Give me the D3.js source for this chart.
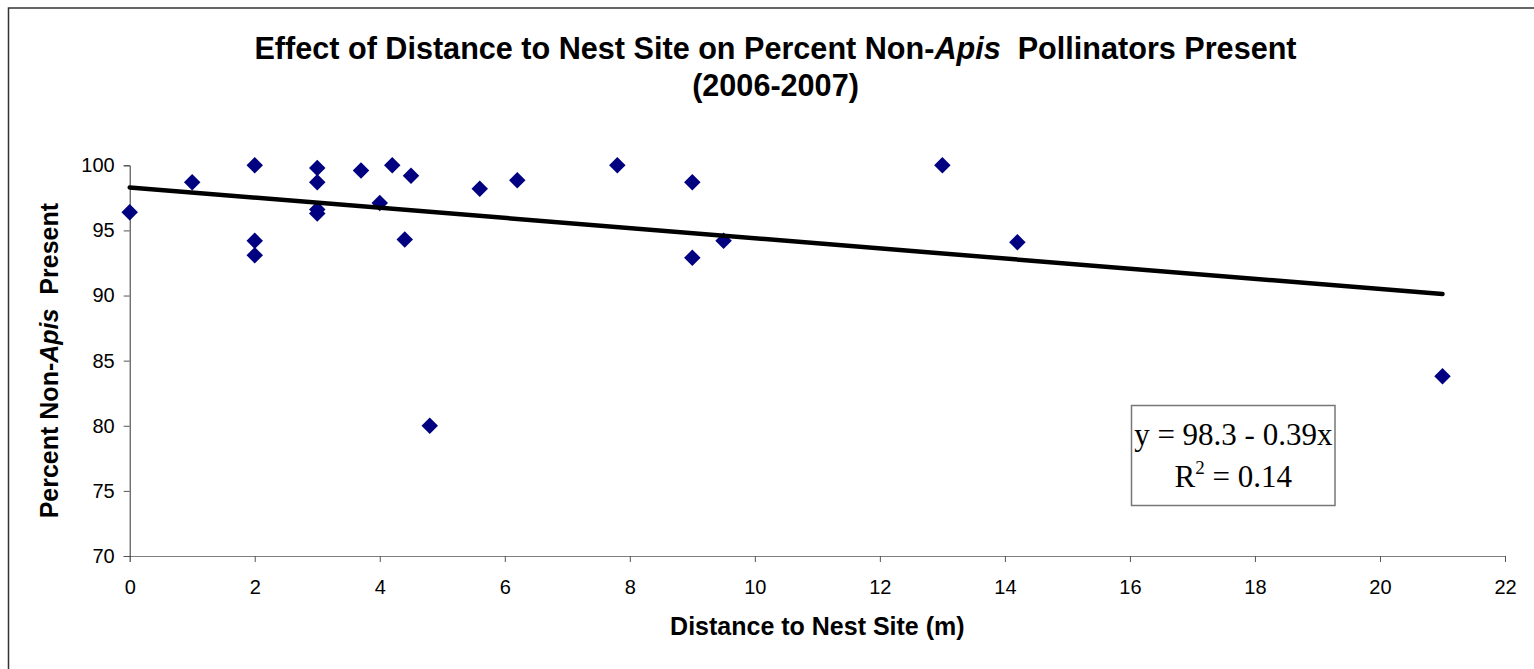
<html>
  <head>
    <meta charset="UTF-8">
    <script src="https://cdnjs.cloudflare.com/ajax/libs/d3/7.8.5/d3.min.js"></script>
    <style>
      body {
        margin: 0;
        background-color: #ffffff;
        overflow: hidden;
      }
      svg {
        display: block;
      }
      text {
        font-family: 'Liberation Sans', Arial, sans-serif;
        fill: #000;
      }
      .title, .axis-title {
        font-weight: bold;
        white-space: pre;
      }
      .tick text {
        font-size: 20px;
      }
      .fit-text {
        font-family: 'Liberation Serif', 'Times New Roman', serif;
        font-size: 31px;
      }
    </style>
  </head>
  <body>
    <svg id="chart"></svg>
    <script>
      // distance to nest site (m) and percent non-Apis pollinators
      const distance = [0, 1, 2, 2, 2, 3, 3, 3, 3, 3.7, 4, 4.2, 4.4, 4.5, 4.8, 5.6, 6.2, 7.8, 9, 9, 9.5, 13, 14.2, 21]
      const percent = [96.4, 98.7, 100, 94.2, 93.1, 99.8, 98.7, 96.6, 96.3, 99.6, 97.1, 100, 94.3, 99.2, 80, 98.2, 98.85, 100, 98.7, 92.9, 94.2, 100, 94.1, 83.8]

      // fitted line as printed on the chart
      const intercept = 98.3
      const slope = -0.39
      const fitRange = [0, 21]
      const fitLabels = ['y = 98.3 - 0.39x', 'R', '2', ' = 0.14']

      const xTicks = [0, 2, 4, 6, 8, 10, 12, 14, 16, 18, 20, 22]
      const yTicks = [70, 75, 80, 85, 90, 95, 100]

      const width = 1534
      const height = 669
      const plot = { left: 129.7, right: 1505, top: 165.3, bottom: 556 }

      const svg = d3.select('#chart')
        .attr('width', width)
        .attr('height', height)

      // chart frame (only the top/left edges fall inside the picture)
      svg.append('rect')
        .attr('x', 8.5)
        .attr('y', 8)
        .attr('width', 2000)
        .attr('height', 1000)
        .attr('fill', 'none')
        .attr('stroke', '#333')
        .attr('stroke-width', 1.5)

      const x = d3.scaleLinear().domain([0, 22]).range([plot.left, plot.right])
      const y = d3.scaleLinear().domain([70, 100]).range([plot.bottom, plot.top])

      const xAxis = svg.append('g')
        .attr('transform', `translate(0, ${plot.bottom})`)
        .call(d3.axisBottom(x).tickValues(xTicks).tickSize(6).tickSizeOuter(6).tickPadding(18))

      const yAxis = svg.append('g')
        .attr('transform', `translate(${plot.left}, 0)`)
        .call(d3.axisLeft(y).tickValues(yTicks).tickSize(6).tickSizeOuter(6).tickPadding(9))

      xAxis.select('.domain').attr('stroke', '#808080')
      yAxis.select('.domain').attr('stroke', '#333')
      svg.selectAll('.tick line').attr('stroke', '#555')
      svg.selectAll('.tick text').attr('font-family', null)

      // points
      const symbol = d3.symbol().type(d3.symbolSquare).size(136)
      svg.append('g')
        .selectAll('path')
        .data(distance.map((d, i) => [d, percent[i]]))
        .enter().append('path')
        .attr('d', symbol)
        .attr('transform', d => `translate(${x(d[0])}, ${y(d[1])}) rotate(45)`)
        .attr('fill', '#000080')

      // trend line
      const line = d3.line()
        .x(d => x(d))
        .y(d => y(intercept + slope * d))

      svg.append('path')
        .datum(fitRange)
        .attr('d', line)
        .attr('fill', 'none')
        .attr('stroke', '#000')
        .attr('stroke-width', 4.5)
        .attr('stroke-linecap', 'round')

      // title
      const title = svg.append('text')
        .attr('class', 'title')
        .attr('text-anchor', 'middle')
        .attr('x', 775.5)
        .attr('y', 59)
        .style('font-size', '30.6px')
      title.append('tspan').text('Effect of Distance to Nest Site on Percent Non-')
      title.append('tspan').style('font-style', 'italic').text('Apis')
      title.append('tspan').text('  Pollinators Present')

      svg.append('text')
        .attr('class', 'title')
        .attr('text-anchor', 'middle')
        .attr('x', 775.5)
        .attr('y', 96)
        .style('font-size', '30.6px')
        .text('(2006-2007)')

      // axis titles
      svg.append('text')
        .attr('class', 'axis-title')
        .attr('text-anchor', 'middle')
        .attr('x', (plot.left + plot.right) / 2)
        .attr('y', 635)
        .style('font-size', '25px')
        .text('Distance to Nest Site (m)')

      const yTitle = svg.append('text')
        .attr('class', 'axis-title')
        .attr('text-anchor', 'middle')
        .attr('transform', `translate(57.5, ${(plot.top + plot.bottom) / 2}) rotate(-90)`)
        .style('font-size', '25px')
      yTitle.append('tspan').text('Percent Non-')
      yTitle.append('tspan').style('font-style', 'italic').text('Apis')
      yTitle.append('tspan').text('  Present')

      // regression label box
      const box = svg.append('g')
      box.append('rect')
        .attr('x', 1131.5)
        .attr('y', 405.5)
        .attr('width', 203.5)
        .attr('height', 100)
        .attr('fill', '#fff')
        .attr('stroke', '#777')
        .attr('stroke-width', 1.5)

      box.append('text')
        .attr('class', 'fit-text')
        .attr('text-anchor', 'middle')
        .attr('x', 1233.3)
        .attr('y', 445)
        .text(fitLabels[0])

      const r2 = box.append('text')
        .attr('class', 'fit-text')
        .attr('text-anchor', 'middle')
        .attr('x', 1233.3)
        .attr('y', 486.5)
      r2.append('tspan').text(fitLabels[1])
      r2.append('tspan').attr('dy', -13).style('font-size', '19px').text(fitLabels[2])
      r2.append('tspan').attr('dy', 13).text(fitLabels[3])
    </script>
  </body>
</html>
